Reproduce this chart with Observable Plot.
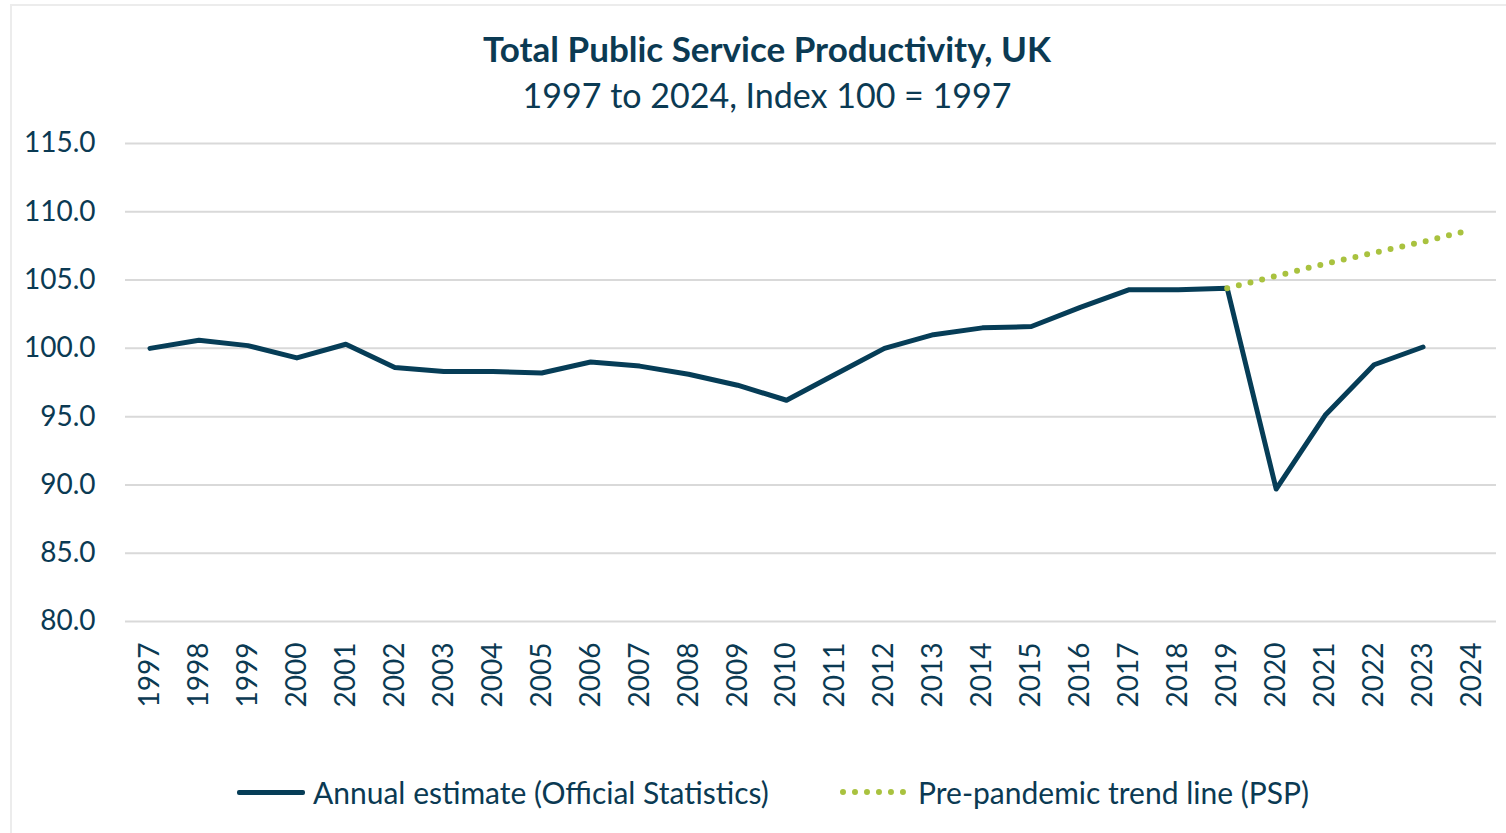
<!DOCTYPE html>
<html>
<head>
<meta charset="utf-8">
<script src="https://cdn.jsdelivr.net/npm/d3@7"></script>
<script src="https://cdn.jsdelivr.net/npm/@observablehq/plot@0.6"></script>
<style>
  html, body { margin: 0; padding: 0; background: #fff; }
  body { width: 1506px; height: 833px; overflow: hidden; position: relative; font-family: Lato, "Open Sans", sans-serif; color: #0b3a53; }
  #frame { position: absolute; left: 10px; top: 4px; width: 1520px; height: 860px; border: 2px solid #ececec; box-sizing: border-box; }
  #title { position: absolute; left: 0; width: 1534px; top: 27px; text-align: center; font-weight: 700; font-size: 35px; }
  #subtitle { position: absolute; left: 0; width: 1534px; top: 74px; text-align: center; font-size: 34px; }
  #chart { position: absolute; left: 0; top: 120px; }
  #legend { position: absolute; top: 772px; left: 0; width: 1506px; font-size: 30px; }
  .item { position: absolute; display: flex; align-items: center; height: 40px; }
  .sw-solid { width: 68px; height: 5px; background: #063d57; border-radius: 2px; margin-right: 8px; }
  .sw-dot { width: 66px; height: 0; border-top: 6px dotted #a9c23f; margin-right: 12px; }
</style>
</head>
<body>
<div id="frame"></div>
<div id="title">Total Public Service Productivity, UK</div>
<div id="subtitle">1997 to 2024, Index 100 = 1997</div>
<div id="chart"></div>
<div id="legend">
  <div class="item" style="left:237px"><div class="sw-solid"></div><span>Annual estimate (Official Statistics)</span></div>
  <div class="item" style="left:840px"><div class="sw-dot"></div><span>Pre-pandemic trend line (PSP)</span></div>
</div>
<script>
const years = [1997,1998,1999,2000,2001,2002,2003,2004,2005,2006,2007,2008,2009,2010,2011,2012,2013,2014,2015,2016,2017,2018,2019,2020,2021,2022,2023,2024];
const annualYears = [1997,1998,1999,2000,2001,2002,2003,2004,2005,2006,2007,2008,2009,2010,2011,2012,2013,2014,2015,2016,2017,2018,2019,2020,2021,2022,2023];
const annualValues = [100.0,100.6,100.2,99.3,100.3,98.6,98.3,98.3,98.2,99.0,98.7,98.1,97.3,96.2,98.1,100.0,101.0,101.5,101.6,103.0,104.3,104.3,104.4,89.7,95.1,98.8,100.1];
const trendYears = [2019,2020,2021,2022,2023,2024];
const trendValues = [104.4,105.3,106.2,107.0,107.8,108.7];
const yTicks = [80,85,90,95,100,105,110,115];

const annual = annualYears.map((y, i) => ({year: y, value: annualValues[i]}));
const trend = trendYears.map((y, i) => ({year: y, value: trendValues[i]}));

const textColor = "#0b3a53";
const chart = Plot.plot({
  width: 1506,
  height: 600,
  marginTop: 23,
  marginBottom: 99,
  marginLeft: 125,
  marginRight: 10,
  style: {fontFamily: "Lato, 'Open Sans', sans-serif", fontSize: "27px", color: textColor, background: "transparent"},
  x: {type: "point", domain: years, padding: 0.5, round: false, label: null},
  y: {domain: [80, 115], label: null},
  marks: [
    Plot.ruleY(yTicks, {stroke: "#d9d9d9", strokeWidth: 2}),
    Plot.axisY({ticks: yTicks, tickSize: 0, tickPadding: 30, tickFormat: d => d.toFixed(1), fontSize: 28, fill: textColor}),
    Plot.axisX({tickSize: 0, tickPadding: 21, tickRotate: -90, tickFormat: d => String(d), fontSize: 28, fill: textColor}),
    Plot.line(annual, {x: "year", y: "value", stroke: "#063d57", strokeWidth: 5, strokeLinejoin: "round", strokeLinecap: "round"}),
    Plot.line(trend, {x: "year", y: "value", stroke: "#a9c23f", strokeWidth: 6, strokeDasharray: "0 12", strokeLinecap: "round"})
  ]
});
document.getElementById("chart").appendChild(chart);
</script>
</body>
</html>
